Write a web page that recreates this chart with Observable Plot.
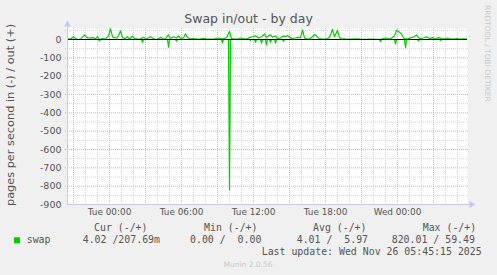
<!DOCTYPE html>
<html>
<head>
<meta charset="utf-8">
<script src="https://cdn.jsdelivr.net/npm/d3@7"></script>
<script src="https://cdn.jsdelivr.net/npm/@observablehq/plot@0.6"></script>
<style>
  html, body { margin: 0; padding: 0; background: #f0f0f0; }
  #wrap { position: relative; width: 497px; height: 275px; overflow: hidden; background: #f0f0f0; }
  #chart { position: absolute; left: 0; top: 0; }
  #overlay { position: absolute; left: 0; top: 0; pointer-events: none; }
  #chart [aria-label^="x-axis"] text { font-size: 8.9px; }
  #chart [aria-label^="y-axis"] text { font-size: 9.5px; }
</style>
</head>
<body>
<div id="wrap">
  <div id="chart"></div>
  <svg id="overlay" width="497" height="275" xmlns="http://www.w3.org/2000/svg"></svg>
</div>
<script>
// ---------- data (minutes relative to Tue 2025-11-25 00:00) ----------
const title = "Swap in/out - by day";
const yLabel = "pages per second in (-) / out (+)";
const sideLabel = "RRDTOOL / TOBI OETIKER";
const seriesName = "swap";
const lastUpdate = "Last update: Wed Nov 26 05:45:15 2025";
const footer = "Munin 2.0.56";

const xTickMinutes = [0, 360, 720, 1080, 1440];
const xTickLabels = ["Tue 00:00", "Tue 06:00", "Tue 12:00", "Tue 18:00", "Wed 00:00"];
const yTicks = [0, -100, -200, -300, -400, -500, -600, -700, -800, -900];

const legendHeaders = ["Cur (-/+)", "Min (-/+)", "Avg (-/+)", "Max (-/+)"];
const legendValues = ["4.02 /207.69m", "0.00 /  0.00", "4.01 /  5.97", "820.01 / 59.49"];

// out (+) series
const outMinutes = [-210,-195,-180,-170,-155,-145,-125,-115,-100,-85,-70,-60,-50,-35,-20,-5,5,15,25,35,45,55,65,80,90,100,115,125,140,155,170,185,205,215,230,245,255,265,280,295,305,320,335,345,355,370,380,390,405,420,435,455,470,485,505,525,545,565,585,600,610,625,640,655,670,685,700,715,730,745,760,775,785,795,805,815,830,840,855,870,880,890,905,915,930,945,955,965,975,985,1000,1015,1025,1035,1045,1055,1070,1085,1100,1115,1125,1140,1150,1160,1180,1205,1230,1255,1280,1305,1330,1360,1380,1405,1425,1435,1450,1460,1470,1480,1495,1510,1525,1535,1545,1555,1570,1585,1600,1615,1630,1645,1660,1675,1690,1705,1720,1735,1755,1770,1785];
const outValues = [2,3,15,5,0,2,25,12,8,10,5,15,0,5,3,20,58,15,10,8,20,48,10,5,15,3,18,5,3,2,12,3,15,8,0,3,12,5,3,25,5,15,8,20,5,10,30,12,3,5,2,3,6,3,2,3,8,3,10,45,5,3,2,8,5,3,10,15,20,8,15,30,10,20,25,12,20,5,8,20,15,22,10,5,8,12,10,52,8,5,3,15,28,20,8,3,2,3,10,55,15,50,10,5,3,2,4,2,1,2,1,2,8,3,20,50,40,30,10,3,5,10,15,25,10,5,8,15,5,10,3,10,5,3,8,3,2,5,2,3,2];

// in (-) series, magnitudes (drawn below zero)
const inMinutes = [-210,-55,-50,-45,160,165,170,290,295,300,330,335,340,560,565,570,595,600,605,700,705,710,725,730,735,755,760,765,780,785,790,800,805,810,825,830,835,865,870,875,1350,1355,1360,1425,1430,1435,1475,1480,1485,1540,1545,1550,1650,1655,1660,1785];
const inValues = [0,0,8,0,0,15,0,0,42,0,0,10,0,0,18,0,0,820,0,0,5,0,0,15,0,0,20,0,0,30,0,0,15,0,0,20,0,0,10,0,0,12,0,0,25,0,0,44,0,0,8,0,0,5,0,0];

// ---------- build ----------
const base = Date.UTC(2025, 10, 25, 0, 0);
const t = m => new Date(base + m * 60000);
const domainX = [t(-210), t(1790)];

const outData = outMinutes.map((m, i) => ({date: t(m), v: outValues[i]}));
const inData = inMinutes.map((m, i) => ({date: t(m), v: -inValues[i]}));

const hours = d3.range(-3, 30);
const majorX = hours.filter(h => h % 3 === 0).map(h => t(h * 60));
const minorX = hours.filter(h => h % 3 !== 0).map(h => t(h * 60));
const majorY = yTicks.filter(v => v !== 0 && v !== -900);
const minorY = d3.range(-850, 51, 100);

const green = "#00cc00";
const axisCol = "#c4c9f0";

const chart = Plot.plot({
  width: 497,
  height: 220,
  marginLeft: 67,
  marginRight: 30,
  marginTop: 28,
  marginBottom: 16,
  style: {background: "transparent", fontFamily: "DejaVu Sans", fontSize: "9.5px", color: "#555", overflow: "visible"},
  x: {type: "utc", domain: domainX, ticks: xTickMinutes.map(t),
      tickFormat: d => xTickLabels[xTickMinutes.indexOf((d - base) / 60000)],
      tickSize: 0, tickPadding: 4.5, label: null},
  y: {domain: [-900, 60], ticks: yTicks, tickFormat: d => String(d), tickSize: 0, tickPadding: 6, label: null},
  marks: [
    Plot.frame({fill: "white", stroke: null}),
    Plot.ruleX(minorX, {stroke: "#d4d4d4", strokeDasharray: "1,1", insetTop: 0, insetBottom: -2}),
    Plot.ruleY(minorY, {stroke: "#d4d4d4", strokeDasharray: "1,1", insetLeft: -2, insetRight: -2}),
    Plot.ruleX(majorX, {stroke: "#eea8a8", strokeDasharray: "1,1", insetBottom: -2}),
    Plot.ruleY(majorY, {stroke: "#eea8a8", strokeDasharray: "1,1", insetLeft: -2, insetRight: -2}),
    Plot.line(inData, {x: "date", y: "v", stroke: green, strokeWidth: 1.2}),
    Plot.line(outData, {x: "date", y: "v", stroke: green, strokeWidth: 1.2}),
    Plot.ruleY([0], {stroke: "#000", strokeWidth: 1}),
    Plot.ruleX([domainX[0]], {stroke: axisCol, strokeWidth: 1, insetTop: -3}),
    Plot.ruleY([-900], {stroke: axisCol, strokeWidth: 1, insetRight: -3}),
    Plot.dot([{x: domainX[0], y: 60}], {x: "x", y: "y", symbol: "triangle", r: 2.6, fill: axisCol, stroke: null, dy: -4}),
    Plot.dot([{x: domainX[1], y: -900}], {x: "x", y: "y", symbol: "triangle", r: 2.6, fill: axisCol, stroke: null, dx: 4, rotate: 90})
  ]
});
document.getElementById("chart").appendChild(chart);

// ---------- text overlay ----------
const ov = d3.select("#overlay");
const txtCol = "#555";
ov.append("text").attr("x", 248.5).attr("y", 23).attr("text-anchor", "middle")
  .attr("font-family", "DejaVu Sans").attr("font-size", 12.5).attr("fill", txtCol).text(title);
ov.append("text").attr("transform", "translate(14.3,115) rotate(-90)").attr("text-anchor", "middle")
  .attr("font-family", "DejaVu Sans").attr("font-size", 11.3).attr("fill", txtCol).text(yLabel);
ov.append("text").attr("transform", "translate(485,5) rotate(90)").attr("text-anchor", "start")
  .attr("font-family", "DejaVu Sans").attr("font-size", 7.5).attr("fill", "#c8c8c8").text(sideLabel);

const mono = "DejaVu Sans Mono";
const headerX = [94, 204, 313, 422.7];
const valueX = [82.7, 190, 296.7, 391.7];
legendHeaders.forEach((h, i) => {
  ov.append("text").attr("x", headerX[i]).attr("y", 230.7).attr("xml:space", "preserve").style("white-space", "pre")
    .attr("font-family", mono).attr("font-size", 9.9).attr("fill", txtCol).text(h);
});
legendValues.forEach((v, i) => {
  ov.append("text").attr("x", valueX[i]).attr("y", 243.3).attr("xml:space", "preserve").style("white-space", "pre")
    .attr("font-family", mono).attr("font-size", 9.9).attr("fill", txtCol).text(v);
});
ov.append("rect").attr("x", 14).attr("y", 237.3).attr("width", 6).attr("height", 6).attr("fill", green);
ov.append("text").attr("x", 26.7).attr("y", 243.3).attr("font-family", mono).attr("font-size", 9.9).attr("fill", txtCol).text(seriesName);
ov.append("text").attr("x", 261.7).attr("y", 255).attr("xml:space", "preserve").style("white-space", "pre")
  .attr("font-family", mono).attr("font-size", 9.9).attr("fill", txtCol).text(lastUpdate);
ov.append("text").attr("x", 248).attr("y", 266.5).attr("text-anchor", "middle")
  .attr("font-family", "DejaVu Sans").attr("font-size", 7.5).attr("fill", "#c8c8c8").text(footer);
</script>
</body>
</html>
